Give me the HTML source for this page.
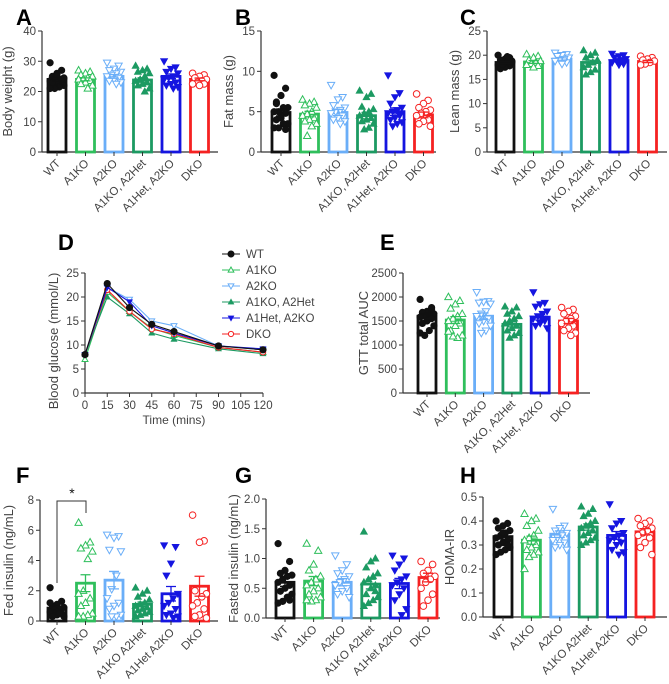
<!DOCTYPE html>
<html><head><meta charset="utf-8"><style>
html,body{margin:0;padding:0;background:#fff;}
svg{display:block;font-family:"Liberation Sans",Arial,sans-serif;}
</style></head><body>
<svg id="fig" width="669" height="684" viewBox="0 0 669 684" xmlns="http://www.w3.org/2000/svg"></svg>
<script>
// ---- data ----
const groups = ["WT","A1KO","A2KO","A1KO, A2Het","A1Het, A2KO","DKO"];
const groupsNoComma = ["WT","A1KO","A2KO","A1KO A2Het","A1Het A2KO","DKO"];
const aMeans = [24,24,25,23.8,25,24];
const aPts = [[29.5,27,26,25,24.5,24,24,23.5,23,23,22.5,22,21.5,21,21,24,25.5,23],[27,26.5,26,25.5,25,24.5,24,24,23.5,23,22.5,22,21],[29.5,28.5,27.5,27,26.5,26,25.5,25,24.5,24,23.5,23,22.5],[28.5,27.5,27,26.5,26,25,24,23.5,23,22.5,22,21,20],[30,28,27.5,26.5,26,25,24.5,24,23,22.5,22,21.5,21],[26,25.5,25,24.5,24,23.5,23,22.5,22.5,22]];
const bMeans = [4.9,4.7,4.9,4.5,5.0,4.6];
const bPts = [[9.5,7.9,7,6.2,5.5,5.5,5,5,4.8,4.5,4,3.5,3.5,3,3,2.8,4.2,6],[6.5,6.2,6,5.8,5.5,5,4.7,4.5,4.2,4,3.8,3.5,3.2,2],[8.3,6.8,6.5,5.8,5.5,5.2,5,4.8,4.5,4.2,4,3.8,3.5],[7.6,7.2,6.8,5.6,5.3,5,4.8,4.5,4.2,4,3.8,3.5,3,2.8],[9.5,7.3,6.8,6,5.5,5.2,5,4.8,4.5,4.2,4,3.7,3.5,3.2],[7.2,6.4,6,5.5,5.2,5,4.8,4.5,4,3.8,3.5,3.2]];
const cMeans = [18.5,18.6,19.2,18.5,18.9,18.7];
const cPts = [[20,19.5,19.2,19,18.8,18.5,18.3,18,17.8,17.5,17.2,18.6,19.7,18.1],[20.2,19.8,19.5,19,18.8,18.5,18.2,18,17.8,17.5],[20.5,20.2,20,19.8,19.5,19.2,19,18.8,18.5,18.2],[21,20.5,20,19.5,19,18.5,18,17.5,17,16.5,16,18.8],[20.3,20,19.8,19.5,19.2,19,18.8,18.5,18.2,18],[19.8,19.5,19.2,19,18.8,18.5,18.2,18]];
const eMeans = [1600,1520,1600,1430,1580,1500];
const ePts = [[1950,1780,1700,1680,1650,1620,1600,1580,1550,1500,1450,1400,1300,1200,1250,1750],[2000,1920,1850,1760,1650,1600,1550,1500,1450,1400,1300,1200,1150,1180,1280],[2100,1910,1900,1880,1860,1700,1650,1600,1550,1500,1450,1400,1300,1250],[1800,1780,1700,1650,1600,1550,1500,1450,1400,1350,1300,1250,1200,1150,1450],[2100,1880,1850,1800,1700,1650,1600,1550,1500,1450,1400,1350,1550],[1780,1740,1700,1650,1600,1550,1500,1450,1400,1350,1300,1250,1200]];
const fMeans = [0.85,2.5,2.7,1.1,1.8,2.3];
const fPts = [[2.2,1.3,1.1,1,0.9,0.8,0.7,0.6,0.5,0.4,0.3,0.3,0.5,0.8,1.2],[6.5,5.2,5,4.8,4.6,4.1,2,1.8,1.5,1.2,1,0.5,0.4,0.3,0.3],[5.7,5.6,5.5,4.7,4.6,3,2.1,1.5,1.2,1,0.8,0.4,0.3,0.3],[2.2,2,1.8,1.6,1.4,1.2,1.1,1,0.9,0.8,0.7,0.6,0.5,0.4,0.3],[5,4.9,3.8,3,1.8,1.5,1.2,1,0.8,0.5,0.4,0.3,0.2],[7,5.3,5.2,2,1.8,1.6,1.2,1,0.8,0.4,0.3,0.2]];
const gMeans = [0.6,0.62,0.6,0.57,0.58,0.68];
const gPts = [[1.25,0.95,0.8,0.75,0.72,0.7,0.65,0.6,0.55,0.5,0.45,0.4,0.35,0.28,0.25,0.3],[1.25,1.13,0.9,0.8,0.7,0.65,0.6,0.55,0.5,0.45,0.4,0.35,0.3,0.28,0.3],[1.05,0.9,0.8,0.75,0.7,0.65,0.6,0.55,0.5,0.45,0.4,0.35],[1.45,1.0,0.95,0.85,0.75,0.7,0.65,0.6,0.55,0.5,0.4,0.35,0.3,0.25,0.2,0.45],[1.05,1.0,0.9,0.8,0.7,0.65,0.6,0.55,0.5,0.4,0.3,0.15,0.05],[0.95,0.9,0.8,0.75,0.7,0.65,0.6,0.5,0.4,0.3,0.2]];
const hMeans = [0.335,0.32,0.345,0.375,0.34,0.355];
const hPts = [[0.4,0.39,0.38,0.37,0.36,0.35,0.34,0.33,0.32,0.31,0.3,0.29,0.28,0.27,0.26,0.3,0.35],[0.43,0.41,0.4,0.38,0.36,0.34,0.33,0.32,0.3,0.29,0.28,0.27,0.26,0.25,0.2],[0.45,0.38,0.37,0.36,0.35,0.34,0.33,0.32,0.31,0.3,0.29,0.28],[0.46,0.45,0.43,0.42,0.4,0.39,0.38,0.37,0.36,0.35,0.34,0.33,0.32,0.31,0.3],[0.47,0.4,0.39,0.37,0.35,0.34,0.33,0.32,0.31,0.3,0.28,0.27,0.26],[0.41,0.4,0.39,0.38,0.37,0.36,0.35,0.34,0.33,0.31,0.29,0.26]];
const gttTimes = [0,15,30,45,60,90,120];
const gttWT = [8,22.8,17.8,14.3,12.8,9.8,9.0];
const gttA1KO = [7,21,17,13.5,12,9.5,8.5];
const gttA2KO = [8,22,19.5,15,14,9.8,9];
const gttHet = [8,20,16.5,12.5,11.2,9.2,8.2];
const gttA1Het = [8,22,19,14,12.5,9.8,9.2];
const gttDKO = [8,21.5,17,13.3,12.3,9.5,8.5];
const gttXTicks = [0,15,30,45,60,75,90,105,120];
const gttYTicks = [0,5,10,15,20,25];

// ---- drawing ----
const NS="http://www.w3.org/2000/svg";
const svg=document.getElementById('fig');
const colors=["#111","#2fbf5c","#6aaef8","#1c9a62","#1515e0","#f52222"];
const markers=[["circle",true],["tri-up",false],["tri-down",false],["tri-up",true],["tri-down",true],["circle",false]];
const TXT='#444';
function el(tag,attrs,parent){const e=document.createElementNS(NS,tag);for(const k in attrs)e.setAttribute(k,attrs[k]);(parent||svg).appendChild(e);return e;}
function txt(s,attrs,parent){const t=el('text',attrs,parent);t.textContent=s;return t;}
function marker(g,gi,x,y,r){
  const [shape,filled]=markers[gi];const c=colors[gi];
  const st={fill:filled?c:'#fff',stroke:c,'stroke-width':filled?0.6:1};
  let m;
  if(shape==='circle'){m=el('circle',Object.assign({cx:x,cy:y,r:r},st),g);}
  else if(shape==='tri-up'){m=el('polygon',Object.assign({points:`${x},${y-r*1.15} ${x-r*1.1},${y+r*0.8} ${x+r*1.1},${y+r*0.8}`},st),g);}
  else {m=el('polygon',Object.assign({points:`${x},${y+r*1.15} ${x-r*1.1},${y-r*0.8} ${x+r*1.1},${y-r*0.8}`},st),g);}
  
  
  return m;
}
function panelLetter(s,x,y){const t=txt(s,{x:x,y:y,'font-size':22,'font-weight':'bold',fill:'#000'});
  }

function barPanel(o){
  const g=el('g',{});
  
  
  const ys=v=>o.y0-(v-o.min)/(o.max-o.min)*(o.y0-o.y1);
  const ya=el('line',{x1:o.ax,y1:o.y0,x2:o.ax,y2:o.y1,stroke:'#333','stroke-width':1.2},g);
  
  const xa=el('line',{x1:o.ax,y1:o.y0,x2:o.xEnd,y2:o.y0,stroke:'#333','stroke-width':1.2},g);
  
  o.ticks.forEach(t=>{
    const y=ys(t);
    el('line',{x1:o.ax-4,y1:y,x2:o.ax,y2:y,stroke:'#333','stroke-width':1},g);
    const tl=txt(o.fmt(t),{x:o.ax-6,y:y+4,'font-size':11.5,'text-anchor':'end',fill:TXT},g);
    
  });
  const yt=txt(o.ytitle,{x:0,y:0,'font-size':13,'text-anchor':'middle',fill:TXT,transform:`translate(${o.tx},${(o.y0+o.y1)/2}) rotate(-90)`},g);
  
  o.cats.forEach((c,i)=>{
    const cx=o.bx0+i*o.bstep;
    const m=o.means[i];const pts=o.pts[i];
    const n=pts.length;const mu=pts.reduce((a,b)=>a+b,0)/n;
    const sd=Math.sqrt(pts.reduce((a,b)=>a+(b-mu)*(b-mu),0)/(n-1));const sem=sd/Math.sqrt(n);
    const bw=18;
    const bar=el('rect',{x:cx-bw/2,y:ys(m),width:bw,height:o.y0-ys(m),fill:'#fff',stroke:colors[i],'stroke-width':2.8},g);
    
    
    pts.forEach((v,j)=>{
      const jx=(((j*5)%7)-3)*2.3;
      marker(g,i,cx+jx,ys(v),3.3);
    });
    const eb=el('path',{d:`M${cx},${ys(m-sem)}V${ys(m+sem)}M${cx-5},${ys(m+sem)}H${cx+5}M${cx-5},${ys(m-sem)}H${cx+5}`,stroke:colors[i],'stroke-width':1.3,fill:'none'},g);
    
    el('line',{x1:cx,y1:o.y0,x2:cx,y2:o.y0+4,stroke:'#333','stroke-width':1},g);
    const cl=txt(c,{x:0,y:0,'font-size':11.5,'text-anchor':'end',fill:TXT,transform:`translate(${cx+4},${o.y0+12}) rotate(-45)`},g);
    
  });
  return {g,ys};
}

panelLetter('A',16,25);panelLetter('B',235,25);panelLetter('C',460,25);
panelLetter('D',58,250);panelLetter('E',380,250);
panelLetter('F',16,483);panelLetter('G',235,483);panelLetter('H',460,483);

barPanel({name:'panel-a-body-weight',ax:42,y0:152,y1:31,min:0,max:40,ticks:[0,10,20,30,40],fmt:t=>String(t),xEnd:218,bx0:57,bstep:28.5,cats:groups,means:aMeans,pts:aPts,ytitle:'Body weight (g)',tx:12});
barPanel({name:'panel-b-fat-mass',ax:261,y0:152,y1:31,min:0,max:15,ticks:[0,5,10,15],fmt:t=>String(t),xEnd:436,bx0:281,bstep:28.5,cats:groups,means:bMeans,pts:bPts,ytitle:'Fat mass (g)',tx:233});
barPanel({name:'panel-c-lean-mass',ax:487,y0:152,y1:31,min:0,max:25,ticks:[0,5,10,15,20,25],fmt:t=>String(t),xEnd:667,bx0:505,bstep:28.5,cats:groups,means:cMeans,pts:cPts,ytitle:'Lean mass (g)',tx:459});
barPanel({name:'panel-e-gtt-auc',ax:403,y0:393,y1:273,min:0,max:2500,ticks:[0,500,1000,1500,2000,2500],fmt:t=>String(t),xEnd:590,bx0:427,bstep:28.3,cats:groups,means:eMeans,pts:ePts,ytitle:'GTT total AUC',tx:368});
barPanel({name:'panel-f-fed-insulin',ax:40,y0:621,y1:500,min:0,max:8,ticks:[0,2,4,6,8],fmt:t=>String(t),xEnd:218,bx0:57,bstep:28.5,cats:groupsNoComma,means:fMeans,pts:fPts,ytitle:'Fed insulin (ng/mL)',tx:13});
barPanel({name:'panel-g-fasted-insulin',ax:266,y0:618,y1:499,min:0,max:2,ticks:[0,0.5,1,1.5,2],fmt:t=>t.toFixed(1),xEnd:440,bx0:285,bstep:28.6,cats:groupsNoComma,means:gMeans,pts:gPts,ytitle:'Fasted insulin (ng/mL)',tx:238});
barPanel({name:'panel-h-homa-ir',ax:483,y0:617,y1:497,min:0,max:0.5,ticks:[0,0.1,0.2,0.3,0.4,0.5],fmt:t=>t.toFixed(1),xEnd:667,bx0:503,bstep:28.4,cats:groupsNoComma,means:hMeans,pts:hPts,ytitle:'HOMA-IR',tx:454});

const br=el('path',{d:`M57,583V501H86V513`,stroke:'#333','stroke-width':1,fill:'none'});

const st=txt('*',{x:72,y:498,'font-size':14,'text-anchor':'middle',fill:'#111'});


(function(){
  const g=el('g',{});
  
  
  const x0=85,x1=263,y0=393,y1=273;
  const xs=t=>x0+t/120*(x1-x0);
  const ys=v=>y0-v/25*(y0-y1);
  const ya=el('line',{x1:x0,y1:y0,x2:x0,y2:y1,stroke:'#333','stroke-width':1.2},g);
  
  const xa=el('line',{x1:x0,y1:y0,x2:x1,y2:y0,stroke:'#333','stroke-width':1.2},g);
  
  gttYTicks.forEach(t=>{el('line',{x1:x0-4,y1:ys(t),x2:x0,y2:ys(t),stroke:'#333'},g);
    const l=txt(String(t),{x:x0-6,y:ys(t)+4,'font-size':11.5,'text-anchor':'end',fill:TXT},g);
    });
  gttXTicks.forEach(t=>{el('line',{x1:xs(t),y1:y0,x2:xs(t),y2:y0+4,stroke:'#333'},g);
    const l=txt(String(t),{x:xs(t),y:y0+16,'font-size':11.5,'text-anchor':'middle',fill:TXT},g);
    });
  const xt=txt('Time (mins)',{x:(x0+x1)/2,y:424,'font-size':12,'text-anchor':'middle',fill:TXT},g);
  
  const yt=txt('Blood glucose (mmol/L)',{x:0,y:0,'font-size':13,'text-anchor':'middle',fill:TXT,transform:`translate(58,${(y0+y1)/2+8}) rotate(-90)`},g);
  
  const series=[gttA2KO,gttA1KO,gttHet,gttDKO,gttA1Het,gttWT];
  const sidx=[2,1,3,5,4,0];
  series.forEach((s,k)=>{
    const i=sidx[k];
    const d=s.map((v,j)=>(j?'L':'M')+xs(gttTimes[j])+','+ys(v)).join('');
    const p=el('path',{d:d,stroke:colors[i],'stroke-width':1.1,fill:'none'},g);
    
    
    s.forEach((v,j)=>marker(g,i,xs(gttTimes[j]),ys(v),i===0?3.3:2.7));
  });
  groups.forEach((n,i)=>{
    const y=254+i*16;
    const lg=el('g',{},g);
    
    
    el('line',{x1:222,y1:y,x2:240,y2:y,stroke:colors[i],'stroke-width':1.1},lg);
    marker(lg,i,231,y,i===0?3.2:2.6);
    txt(n,{x:246,y:y+4,'font-size':11.5,fill:TXT},lg);
  });
})();
</script>
</body></html>
